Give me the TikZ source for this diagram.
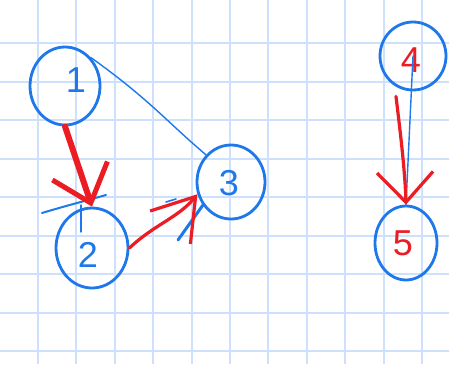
\documentclass[tikz,border=0pt]{standalone}
\usepackage{fontspec}
\setmainfont{Liberation Sans}
\usetikzlibrary{shapes.geometric,arrows.meta}
\definecolor{gridblue}{RGB}{205,225,252}
\definecolor{inkblue}{RGB}{30,120,235}
\definecolor{inkred}{RGB}{235,28,36}
\tikzset{
  vert/.style={ellipse, draw=inkblue, line width=2.8pt, inner sep=0pt},
  digit/.style={font=\fontsize{36}{36}\selectfont},
  undirected/.style={draw=inkblue, line width=1.4pt, line cap=round},
  redarrow/.style={draw=inkred, line width=3.2pt, line cap=round,
    -{Straight Barb[length=30pt, width=56pt, line width=3.2pt]}},
  longarrow/.style={draw=inkred, line width=3.2pt, line cap=round,
    -{Straight Barb[length=40pt, width=52pt, line width=3.2pt]}},
  bigarrow/.style={draw=inkred, line width=6pt, line cap=round,
    -{Straight Barb[length=34pt, width=58pt, line width=5pt]}},
  stroke/.style={draw=inkblue, line width=2pt, line cap=round},
}
\begin{document}
\begin{tikzpicture}[x=1pt, y=-1pt]
\useasboundingbox (0,0) rectangle (449,364);
\fill[white] (0,0) rectangle (449,364);
% squared paper
\foreach \gx in {38,76.4,114.8,153.2,191.6,230,268.4,306.8,345.2,383.6,422}
  \draw[gridblue, line width=2pt] (\gx,0) -- (\gx,364);
\foreach \gy in {43,81.5,120,158.5,197,235.5,274,312.5,351}
  \draw[gridblue, line width=2pt] (0,\gy) -- (449,\gy);

% vertices
\node[vert, minimum width=70pt, minimum height=78pt] (v1) at (65,86) {};
\node[vert, minimum width=72pt, minimum height=80pt] (v2) at (92,248) {};
\node[vert, minimum width=68pt, minimum height=74pt] (v3) at (231,182) {};
\node[vert, minimum width=66pt, minimum height=68pt] (v4) at (413,56) {};
\node[vert, minimum width=62pt, minimum height=74pt] (v5) at (406,243) {};

% labels
\node[digit, text=inkblue] (t1) at (76,80) {1};
\node[digit, text=inkblue] (t2) at (88,255) {2};
\node[digit, text=inkblue] (t3) at (229,183) {3};
\node[digit, text=inkred] (t4) at (411,60) {4};
\node[digit, text=inkred] (t5) at (403,243) {5};

% stray pen strokes
\coordinate (s1a) at (42,213);
\coordinate (s1b) at (106,195);
\draw[stroke] (s1a) .. controls (65,206) and (85,201) .. (s1b);
\coordinate (s2a) at (81,205);
\coordinate (s2b) at (81,232);
\draw[stroke, line width=1.4pt] (s2a) -- (s2b);
\coordinate (s3a) at (178,240);
\coordinate (s3b) at (203,205);
\draw[stroke, line width=3pt] (s3a) -- (s3b);
\coordinate (s4a) at (166,202);
\coordinate (s4b) at (176,199);
\draw[stroke, line width=1.6pt] (s4a) -- (s4b);

% edges
\draw[undirected] (v1.north east) .. controls (150,100) and (165,120) .. (v3.north west);
\draw[undirected] (v4.center) -- (v5.north);
\draw[bigarrow] (v1.south) -- (v2.north);
\draw[longarrow] (v2.east) .. controls (155,224) and (178,218) .. (v3.200);
\draw[redarrow] (v4.south) ++(-17,5) coordinate (r4) (r4) .. controls (400,130) and (405,170) .. (v5.north);
\end{tikzpicture}
\end{document}
